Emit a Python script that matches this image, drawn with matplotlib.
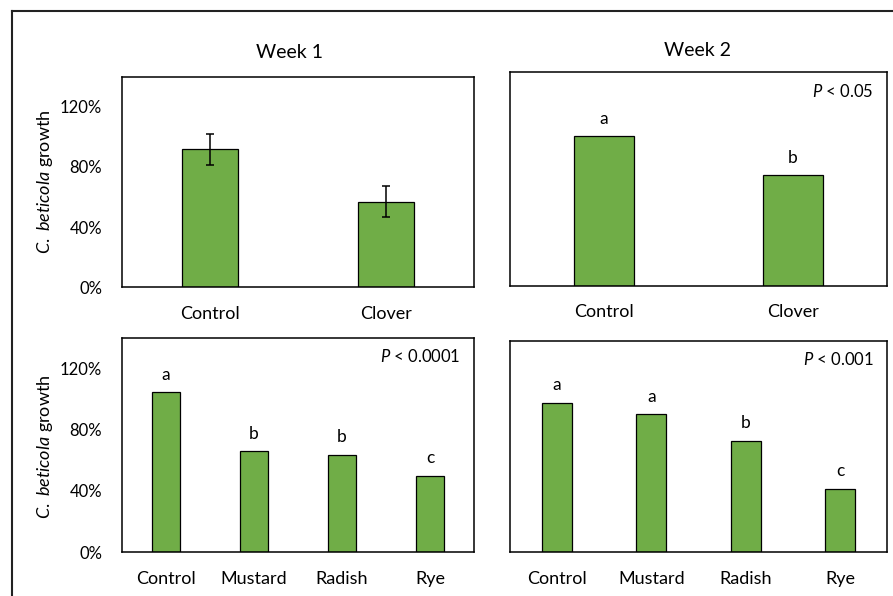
import matplotlib
matplotlib.use("Agg")
import matplotlib.pyplot as plt
from matplotlib.lines import Line2D

plt.rcParams['font.family'] = ['Lato', 'DejaVu Sans']
plt.rcParams['mathtext.fontset'] = 'custom'
plt.rcParams['mathtext.rm'] = 'Lato'
plt.rcParams['mathtext.it'] = 'Lato:italic'

green = '#70AD47'

# week 1 / week 2, clover experiment
clover_cats = ['Control', 'Clover']
w1_clover = [91.7, 57.0]
w1_clover_err = [10.2, 10.0]
w2_clover = [98.0, 72.6]
w2_clover_letters = ['a', 'b']

# brassica / rye experiment
cover_cats = ['Control', 'Mustard', 'Radish', 'Rye']
w1_cover = [104.5, 65.9, 63.5, 50.0]
w1_cover_letters = ['a', 'b', 'b', 'c']
w2_cover = [99.0, 91.5, 73.7, 42.0]
w2_cover_letters = ['a', 'a', 'b', 'c']

yticks = [0, 40, 80, 120]
ytick_labels = ['0%', '40%', '80%', '120%']

fig = plt.figure(figsize=(8.93, 5.96), dpi=100)

ax1 = fig.add_axes([0.1363, 0.5180, 0.3948, 0.3534])
ax2 = fig.add_axes([0.5708, 0.5206, 0.4228, 0.3581])
ax3 = fig.add_axes([0.1363, 0.0733, 0.3948, 0.3601])
ax4 = fig.add_axes([0.5708, 0.0733, 0.4228, 0.3550])


def panel(ax, cats, vals, letters=None, err=None, ptext=None, show_y=False):
    x = range(len(cats))
    ax.bar(x, vals, width=0.32, color=green, edgecolor='black', linewidth=0.9,
           zorder=2)
    if err is not None:
        ax.errorbar(x, vals, yerr=err, fmt='none', ecolor='black',
                    elinewidth=1.1, capsize=3, capthick=1.1, zorder=3)
    if letters is not None:
        for xi, v, l in zip(x, vals, letters):
            ax.annotate(l, (xi, v), xytext=(0, 9), textcoords='offset points',
                        ha='center', va='baseline', fontsize=12.5)
    if ptext is not None:
        ax.annotate(ptext, (1, 1), xycoords='axes fraction', xytext=(-10, -13.5),
                    textcoords='offset points', ha='right', va='center',
                    fontsize=12)
    ax.set_xlim(-0.5, len(cats) - 0.5)
    ax.set_ylim(0, 140)
    ax.set_xticks(list(x))
    ax.set_xticklabels(cats, fontsize=13)
    ax.tick_params(axis='x', length=0, pad=13.5)
    if show_y:
        ax.set_yticks(yticks)
        ax.set_yticklabels(ytick_labels, fontsize=12)
        ax.tick_params(axis='y', length=0, pad=14)
    else:
        ax.set_yticks([])
    for s in ax.spines.values():
        s.set_linewidth(1.1)


panel(ax1, clover_cats, w1_clover, err=w1_clover_err, show_y=True)
panel(ax2, clover_cats, w2_clover, letters=w2_clover_letters, ptext=r'$P$ < 0.05')
panel(ax3, cover_cats, w1_cover, letters=w1_cover_letters,
      ptext=r'$P$ < 0.0001', show_y=True)
panel(ax4, cover_cats, w2_cover, letters=w2_cover_letters, ptext=r'$P$ < 0.001')

fig.text(289 / 893, 1 - 52 / 596, 'Week 1', ha='center', va='center', fontsize=14)
fig.text(697 / 893, 1 - 50 / 596, 'Week 2', ha='center', va='center', fontsize=14)

ylab = r'$C.\ beticola$ growth'
fig.text(45 / 893, 1 - 182 / 596, ylab, rotation=90, ha='center', va='center',
         fontsize=13)
fig.text(45 / 893, 1 - 446.7 / 596, ylab, rotation=90, ha='center', va='center',
         fontsize=13)

# outer frame (left and top edges visible)
fig.add_artist(Line2D([11.5 / 893, 11.5 / 893], [0, 1 - 10.5 / 596],
                      color='#222222', linewidth=1.5))
fig.add_artist(Line2D([11.5 / 893, 1], [1 - 10.5 / 596, 1 - 10.5 / 596],
                      color='#222222', linewidth=1.5))

fig.savefig('out.png', dpi=100)
